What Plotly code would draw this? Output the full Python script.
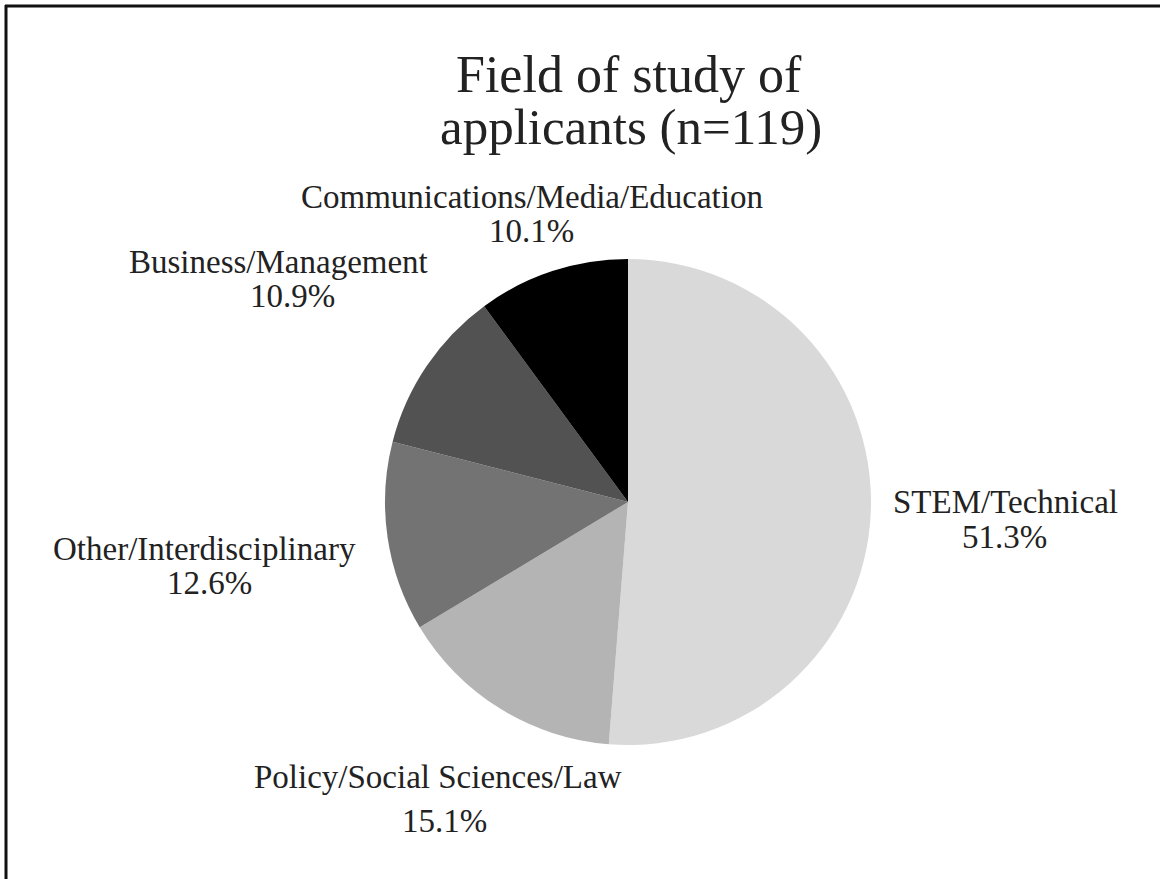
import plotly.graph_objects as go

W, H = 1160, 879

# Applicant counts by field of study (n = 119)
fields = [
    "STEM/Technical",
    "Policy/Social Sciences/Law",
    "Other/Interdisciplinary",
    "Business/Management",
    "Communications/Media/Education",
]
counts = [61, 18, 15, 13, 12]
shades = ["#d9d9d9", "#b4b4b4", "#737373", "#525252", "#000000"]

# Label placement in pixels from the top-left: (name x, name y, pct x, pct y)
label_px = [
    (1005, 502, 1004, 537),
    (438, 777, 444, 821),
    (204, 549, 209, 583),
    (278, 262, 292, 296),
    (532, 197, 531, 231),
]

title_lines = ["Field of study of", "applicants (n=119)"]
title_px = [(629, 74), (631, 127)]

total = sum(counts)
cx, cy, r = 628, 502, 243


def px(x, y):
    return x / W, 1 - y / H


fig = go.Figure(
    go.Pie(
        labels=fields,
        values=counts,
        sort=False,
        direction="clockwise",
        rotation=0,
        marker=dict(colors=shades, line=dict(width=0)),
        textinfo="none",
        hoverinfo="label+percent",
        domain=dict(
            x=[(cx - r) / W, (cx + r) / W],
            y=[1 - (cy + r) / H, 1 - (cy - r) / H],
        ),
        showlegend=False,
    )
)

font_family = "Liberation Serif, Times New Roman, serif"
text_color = "#222222"


def text_at(x, y, text, size):
    ax, ay = px(x, y)
    return dict(
        x=ax, y=ay, xref="paper", yref="paper",
        text=text, showarrow=False,
        xanchor="center", yanchor="middle",
        font=dict(family=font_family, size=size, color=text_color),
    )


annotations = []
for name, c, (nx, ny, qx, qy) in zip(fields, counts, label_px):
    annotations.append(text_at(nx, ny, name, 33))
    annotations.append(text_at(qx, qy, f"{100 * c / total:.1f}%", 33))

annotations.append(text_at(*title_px[0], title_lines[0], 52))
annotations.append(text_at(*title_px[1], title_lines[1], 51))

# Frame lines along the top and left edges
shapes = [
    dict(type="line", xref="paper", yref="paper",
         x0=5 / W, x1=1.0, y0=1 - 6 / H, y1=1 - 6 / H,
         line=dict(color="#111111", width=3)),
    dict(type="line", xref="paper", yref="paper",
         x0=6 / W, x1=6 / W, y0=0, y1=1 - 5 / H,
         line=dict(color="#111111", width=3)),
]

fig.update_layout(
    width=W, height=H,
    margin=dict(l=0, r=0, t=0, b=0),
    paper_bgcolor="white",
    plot_bgcolor="white",
    annotations=annotations,
    shapes=shapes,
)

fig.write_html("out.html")
